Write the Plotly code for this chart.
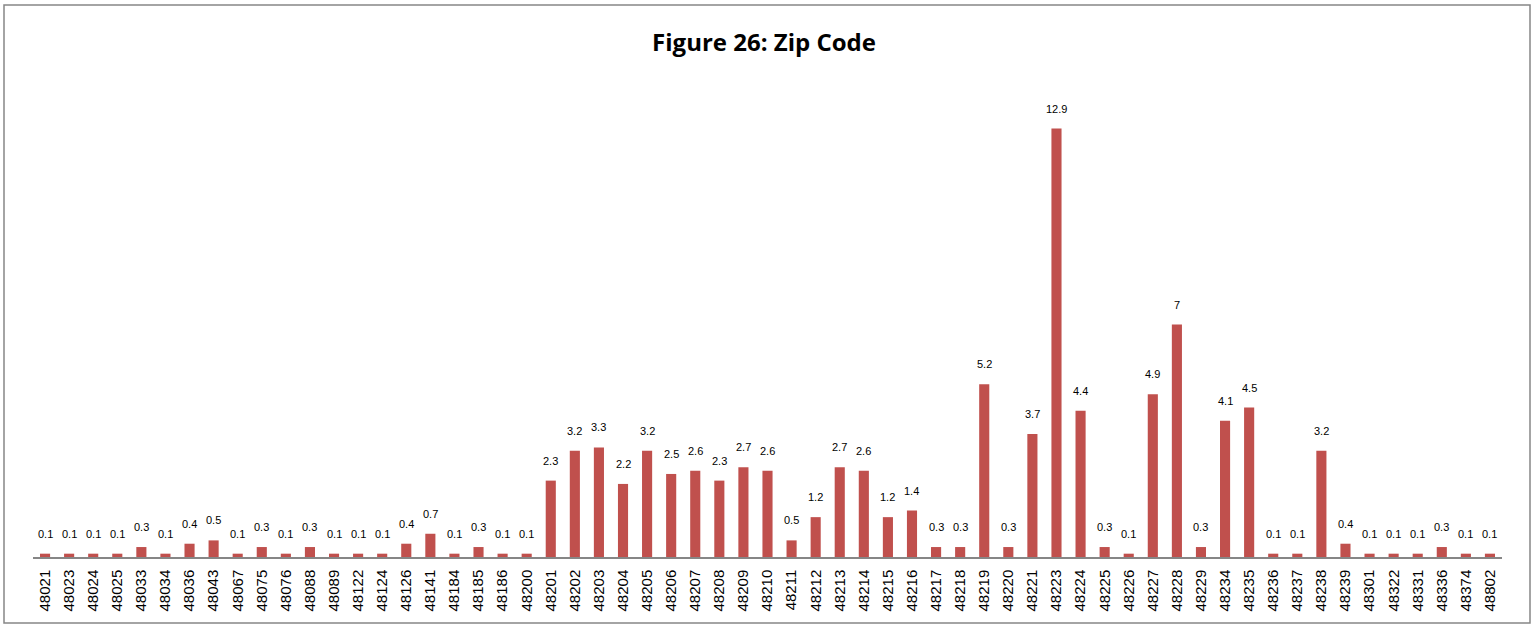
import plotly.graph_objects as go

# Zip codes and percentages
zipCodes = [
    "48021", "48023", "48024", "48025", "48033", "48034", "48036", "48043", "48067", "48075",
    "48076", "48088", "48089", "48122", "48124", "48126", "48141", "48184", "48185", "48186",
    "48200", "48201", "48202", "48203", "48204", "48205", "48206", "48207", "48208", "48209",
    "48210", "48211", "48212", "48213", "48214", "48215", "48216", "48217", "48218", "48219",
    "48220", "48221", "48223", "48224", "48225", "48226", "48227", "48228", "48229", "48234",
    "48235", "48236", "48237", "48238", "48239", "48301", "48322", "48331", "48336", "48374",
    "48802",
]
percents = [
    0.1, 0.1, 0.1, 0.1, 0.3, 0.1, 0.4, 0.5, 0.1, 0.3,
    0.1, 0.3, 0.1, 0.1, 0.1, 0.4, 0.7, 0.1, 0.3, 0.1,
    0.1, 2.3, 3.2, 3.3, 2.2, 3.2, 2.5, 2.6, 2.3, 2.7,
    2.6, 0.5, 1.2, 2.7, 2.6, 1.2, 1.4, 0.3, 0.3, 5.2,
    0.3, 3.7, 12.9, 4.4, 0.3, 0.1, 4.9, 7, 0.3, 4.1,
    4.5, 0.1, 0.1, 3.2, 0.4, 0.1, 0.1, 0.1, 0.3, 0.1,
    0.1,
]

W, H = 1536, 626
left, right, top, bottom = 33, 34, 92, 69

fig = go.Figure(go.Bar(
    x=zipCodes,
    y=percents,
    marker_color="#C0504D",
    marker_line_width=0,
))

# data labels above bars (x given as category index, zip strings look numeric)
for i, v in enumerate(percents):
    fig.add_annotation(
        x=i, y=v, text=str(v), showarrow=False,
        yanchor="bottom", yshift=12,
        font=dict(family="Liberation Sans, Arial", size=11, color="#000000"),
    )

# outer frame, in pixels converted to paper coords
plotW = W - left - right
plotH = H - top - bottom
def px(x):
    return (x - left) / plotW
def py(y):
    return (H - bottom - y) / plotH

fig.add_shape(
    type="rect", xref="paper", yref="paper",
    x0=px(4), x1=px(1530), y0=py(623), y1=py(5),
    line=dict(color="#868686", width=1.5), fillcolor="rgba(0,0,0,0)",
)

fig.update_layout(
    width=W, height=H,
    margin=dict(l=left, r=right, t=top, b=bottom),
    paper_bgcolor="white",
    plot_bgcolor="white",
    bargap=0.58,
    showlegend=False,
    title=dict(
        text="<b>Figure 26: Zip Code</b>",
        x=764 / W, xanchor="center", xref="container",
        y=1 - 43 / H, yanchor="middle",
        font=dict(family="Open Sans, Arial", size=24, color="#000000"),
    ),
    xaxis=dict(
        type="category",
        range=[-0.5, len(zipCodes) - 0.5],
        tickangle=-90,
        tickfont=dict(family="Liberation Sans, Arial", size=15, color="#000000"),
        ticklabelstandoff=5,
        showline=True, linecolor="#868686", linewidth=1.5,
        ticks="", showgrid=False,
    ),
    yaxis=dict(
        range=[0, 14],
        visible=False,
        showgrid=False,
        zeroline=False,
    ),
)

# drop the default 8px body margin so the figure sits at the page corner
fig.write_html(
    "out.html",
    config={"displayModeBar": False},
    post_script="document.body.style.margin='0';",
)
